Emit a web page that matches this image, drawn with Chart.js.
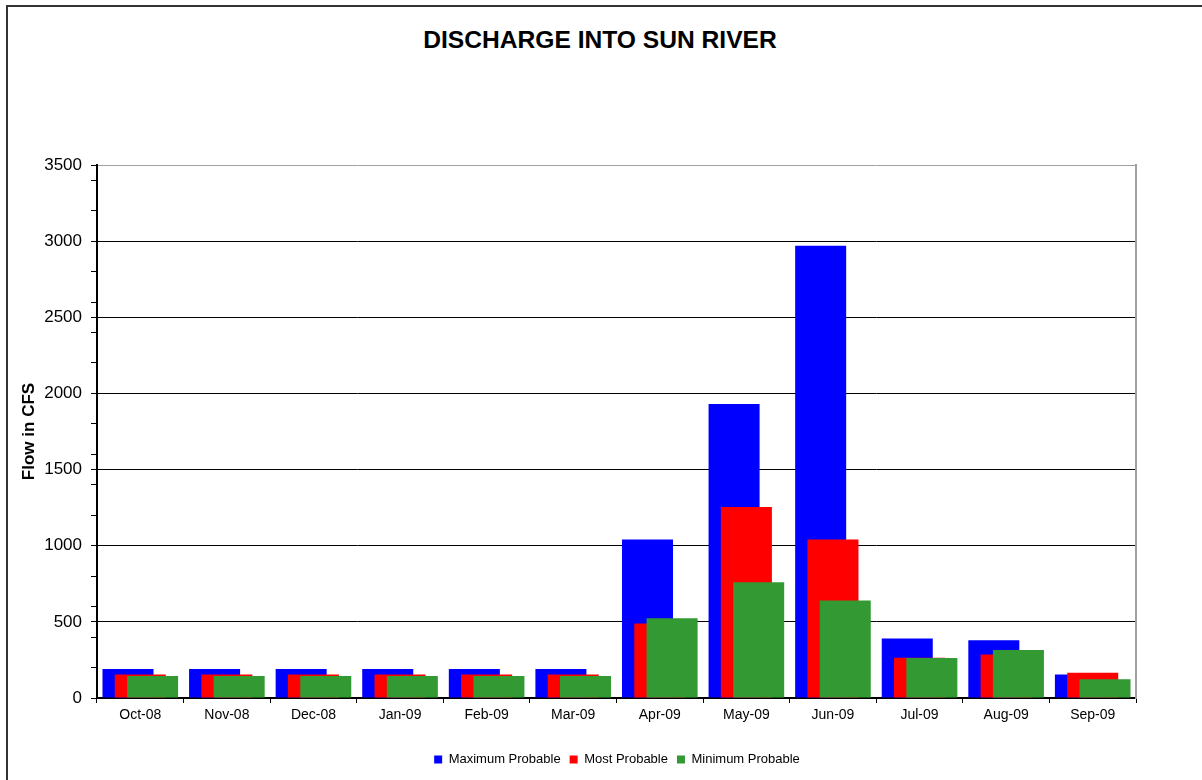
<!DOCTYPE html>
<html>
<head>
<meta charset="utf-8">
<script src="https://cdn.jsdelivr.net/npm/chart.js@4"></script>
<style>
  html, body { margin: 0; padding: 0; background: #fff; overflow: hidden; }
  body { width: 1202px; height: 780px; position: relative; font-family: Arial, "Liberation Sans", sans-serif; }
  #frame { position: absolute; left: 6px; top: 5px; width: 1300px; height: 900px; border: 2px solid #333; box-sizing: border-box; }
  #title { position: absolute; left: 0; width: 1200px; top: 28px; text-align: center; font-size: 24.6px; line-height: 24px; font-weight: bold; color: #000; }
  #chart { position: absolute; left: 15px; top: 100px; }
</style>
</head>
<body>
<div id="frame"></div>
<div id="title">DISCHARGE INTO SUN RIVER</div>
<canvas id="chart" width="1204" height="680"></canvas>
<script>
const months = ["Oct-08", "Nov-08", "Dec-08", "Jan-09", "Feb-09", "Mar-09",
                "Apr-09", "May-09", "Jun-09", "Jul-09", "Aug-09", "Sep-09"];
const maxProbable = [190, 190, 190, 190, 190, 190, 1040, 1930, 2970, 390, 380, 155];
const mostProbable = [155, 155, 155, 155, 155, 155, 490, 1255, 1040, 265, 285, 165];
const minProbable = [145, 145, 145, 145, 145, 145, 523, 760, 640, 262, 315, 123];
const yMax = 3500;

const clear = "rgba(0,0,0,0)";

// excel draws later series on top, chart.js does the reverse
const drawInOrder = {
  id: "drawInOrder",
  beforeDatasetsDraw(chart) {
    chart.getSortedVisibleDatasetMetas().forEach(meta => meta.controller.draw());
    return false;
  }
};

const barOpts = { categoryPercentage: 0.426, barPercentage: 4.15, borderWidth: 0 };

new Chart(document.getElementById("chart"), {
  type: "bar",
  data: {
    labels: months,
    datasets: [
      { label: "Maximum Probable", data: maxProbable, backgroundColor: "#0000ff", ...barOpts },
      { label: "Most Probable", data: mostProbable, backgroundColor: "#ff0000", ...barOpts },
      { label: "Minimum Probable", data: minProbable, backgroundColor: "#339933", ...barOpts }
    ]
  },
  options: {
    responsive: false,
    animation: false,
    layout: { padding: { top: 65, left: 0, right: 0, bottom: 4 } },
    plugins: {
      legend: {
        position: "bottom",
        labels: {
          color: "#000",
          font: { family: "Arial", size: 13 },
          boxWidth: 8,
          boxHeight: 8,
          padding: 9
        }
      },
      tooltip: { enabled: false }
    },
    scales: {
      x: {
        grid: { offset: true, color: clear, tickColor: "#000", tickLength: 5, tickWidth: 1 },
        border: { color: "#000", width: 2 },
        ticks: { color: "#000", font: { family: "Arial", size: 14 }, padding: 4, maxRotation: 0 },
        afterFit(s) { s.height = 46; }
      },
      y: {
        min: 0,
        max: yMax,
        ticks: {
          stepSize: 100,
          maxTicksLimit: 40,
          autoSkip: false,
          color: "#000",
          font: { family: "Arial", size: 17 },
          padding: 9,
          callback: v => (v % 500 === 0 ? v : "")
        },
        grid: {
          color: ctx => {
            const v = ctx.tick.value;
            if (v === yMax) return "#a0a0a0";
            return v % 500 === 0 ? "#000" : clear;
          },
          tickColor: ctx => {
            const v = ctx.tick.value;
            return (v % 500 === 0 || v % 200 === 0) ? "#000" : clear;
          },
          tickLength: 6,
          lineWidth: 1
        },
        border: { color: "#000", width: 2 },
        title: {
          display: true,
          text: "Flow in CFS",
          color: "#000",
          font: { family: "Arial", size: 17, weight: "bold" },
          padding: { top: 4, bottom: 4 }
        },
        afterFit(s) { s.width = 82; }
      },
      yRight: {
        position: "right",
        min: 0,
        max: yMax,
        ticks: { display: false },
        grid: { drawOnChartArea: false, drawTicks: false },
        border: { color: "#a0a0a0", width: 2 },
        afterFit(s) { s.width = 83; }
      }
    }
  },
  plugins: [drawInOrder]
});
</script>
</body>
</html>
